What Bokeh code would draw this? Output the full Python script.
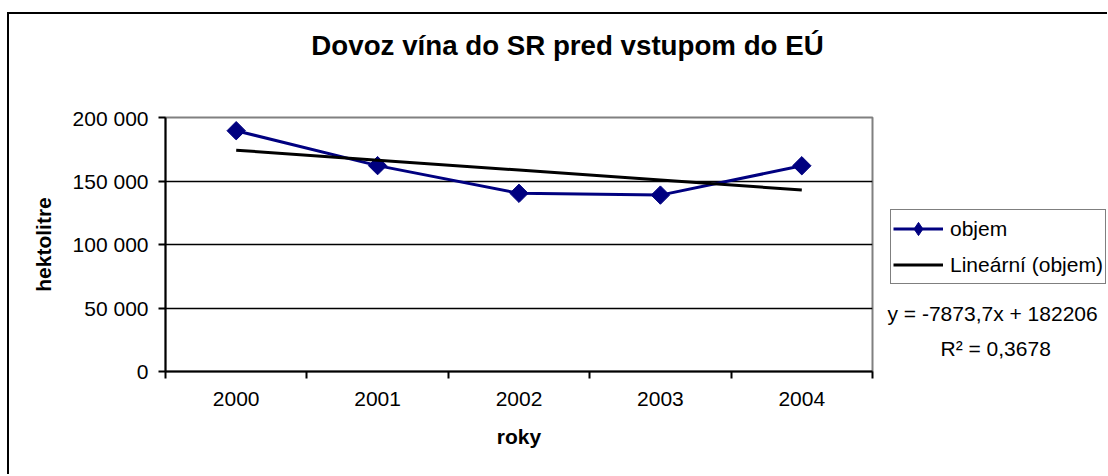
import numpy as np
from bokeh.plotting import figure
from bokeh.layouts import column, row
from bokeh.models import FixedTicker, Label, Legend, LegendItem, Range1d
from bokeh.embed import file_html
from bokeh.resources import INLINE

# ---- data ----
years = ["2000", "2001", "2002", "2003", "2004"]
objem = [189600, 162100, 140300, 138900, 162000]
y_ticks = [0, 50000, 100000, 150000, 200000]
y_tick_labels = ["0", "50 000", "100 000", "150 000", "200 000"]
title_text = "Dovoz vína do SR pred vstupom do EÚ"
x_label = "roky"
y_label = "hektolitre"
series_name = "objem"
trend_name = "Lineární (objem)"
equation_text = "y = -7873,7x + 182206"
r2_text = "R² = 0,3678"

x = np.arange(1, len(years) + 1)
slope, intercept = np.polyfit(x, objem, 1)
trend = slope * x + intercept

FONT = "Liberation Sans"
NAVY = "#000080"
W1, W2 = 865, 233
H_HEAD, H_MAIN = 92, 368


def bare(width, height):
    f = figure(width=width, height=height, output_backend="svg", toolbar_location=None,
               x_axis_type=None, y_axis_type=None, x_range=Range1d(0, 1), y_range=Range1d(0, 1),
               min_border=0)
    f.title.visible = False
    f.outline_line_color = None
    f.background_fill_color = "white"
    f.border_fill_color = "white"
    return f


# ---- header with title ----
head = bare(W1 + W2, H_HEAD)
head.add_layout(Label(x=558, y=61, x_units="screen", y_units="screen", text=title_text,
                      text_align="center", text_baseline="alphabetic", text_font=FONT,
                      text_font_style="bold", text_font_size="27.7px", text_color="black"))

# ---- main plot ----
p = figure(width=W1, height=H_MAIN, output_backend="svg", toolbar_location=None,
           x_range=Range1d(0.5, len(years) + 0.5), y_range=Range1d(y_ticks[0], y_ticks[-1]),
           min_border_left=156, min_border_right=2, min_border_top=11, min_border_bottom=103)
p.title.visible = False
p.background_fill_color = "white"
p.border_fill_color = "white"
p.outline_line_color = "#808080"
p.outline_line_width = 2

p.xaxis.ticker = FixedTicker(ticks=[float(v) for v in x],
                             minor_ticks=[i + 0.5 for i in range(len(years) + 1)])
p.xaxis.major_label_overrides = {int(v): yr for v, yr in zip(x, years)}
p.xaxis.major_tick_out = 0
p.xaxis.major_tick_in = 0
p.xaxis.minor_tick_out = 7
p.xaxis.minor_tick_in = 0
p.xaxis.minor_tick_line_color = "black"
p.xaxis.minor_tick_line_width = 2
p.xaxis.major_label_standoff = 13
p.xaxis.axis_label = x_label
p.xaxis.axis_label_standoff = 16

p.yaxis.ticker = FixedTicker(ticks=y_ticks)
p.yaxis.major_label_overrides = {v: s for v, s in zip(y_ticks, y_tick_labels)}
p.yaxis.major_tick_out = 7
p.yaxis.major_tick_in = 0
p.yaxis.minor_tick_line_color = None
p.yaxis.major_label_standoff = 10
p.yaxis.axis_label = y_label
p.yaxis.axis_label_standoff = 15

for ax in (p.xaxis[0], p.yaxis[0]):
    ax.axis_line_color = "black"
    ax.axis_line_width = 2
    ax.major_tick_line_color = "black"
    ax.major_tick_line_width = 2
    ax.major_label_text_font = FONT
    ax.major_label_text_font_size = "21px"
    ax.major_label_text_color = "black"
    ax.axis_label_text_font = FONT
    ax.axis_label_text_font_size = "21px"
    ax.axis_label_text_font_style = "bold"
    ax.axis_label_text_color = "black"

p.xgrid.visible = False
p.ygrid.ticker = FixedTicker(ticks=y_ticks[1:-1])
p.ygrid.grid_line_color = "black"
p.ygrid.grid_line_width = 1.6

p.line(x, objem, line_color=NAVY, line_width=3)
p.scatter(x, objem, marker="square", angle=np.pi / 4, size=13, fill_color=NAVY, line_color=NAVY)
p.line(x, trend, line_color="black", line_width=3)

# ---- side panel: legend and trend-line equation ----
side = bare(W2, H_MAIN)
# legend proxies use the series data, which lies far outside this panel's ranges
lg_line = side.line(x, objem, line_color=NAVY, line_width=3)
lg_mark = side.scatter(x, objem, marker="diamond", size=13, fill_color=NAVY, line_color=NAVY)
lg_trend = side.line(x, trend, line_color="black", line_width=3)
legend = Legend(items=[LegendItem(label=series_name, renderers=[lg_line, lg_mark]),
                       LegendItem(label=trend_name, renderers=[lg_trend])],
                location=(16, 87))
legend.label_text_font = FONT
legend.label_text_font_size = "21px"
legend.label_text_color = "black"
legend.glyph_width = 50
legend.glyph_height = 33
legend.label_height = 33
legend.label_standoff = 7
legend.spacing = 3
legend.padding = 2
legend.margin = 0
legend.border_line_color = "black"
legend.border_line_width = 1.5
legend.background_fill_color = "white"
legend.background_fill_alpha = 1
side.add_layout(legend)
side.add_layout(Label(x=13, y=58, x_units="screen", y_units="screen", text=equation_text,
                      text_align="left", text_baseline="alphabetic", text_font=FONT,
                      text_font_size="21px", text_color="black"))
side.add_layout(Label(x=66, y=23, x_units="screen", y_units="screen", text=r2_text,
                      text_align="left", text_baseline="alphabetic", text_font=FONT,
                      text_font_size="21px", text_color="black"))

layout = column(head, row(p, side, spacing=0), spacing=0,
                styles={"margin-left": "7px", "margin-top": "12px",
                        "border-left": "2px solid black", "border-top": "2px solid black"})

open("out.html", "w").write(file_html(layout, INLINE))
